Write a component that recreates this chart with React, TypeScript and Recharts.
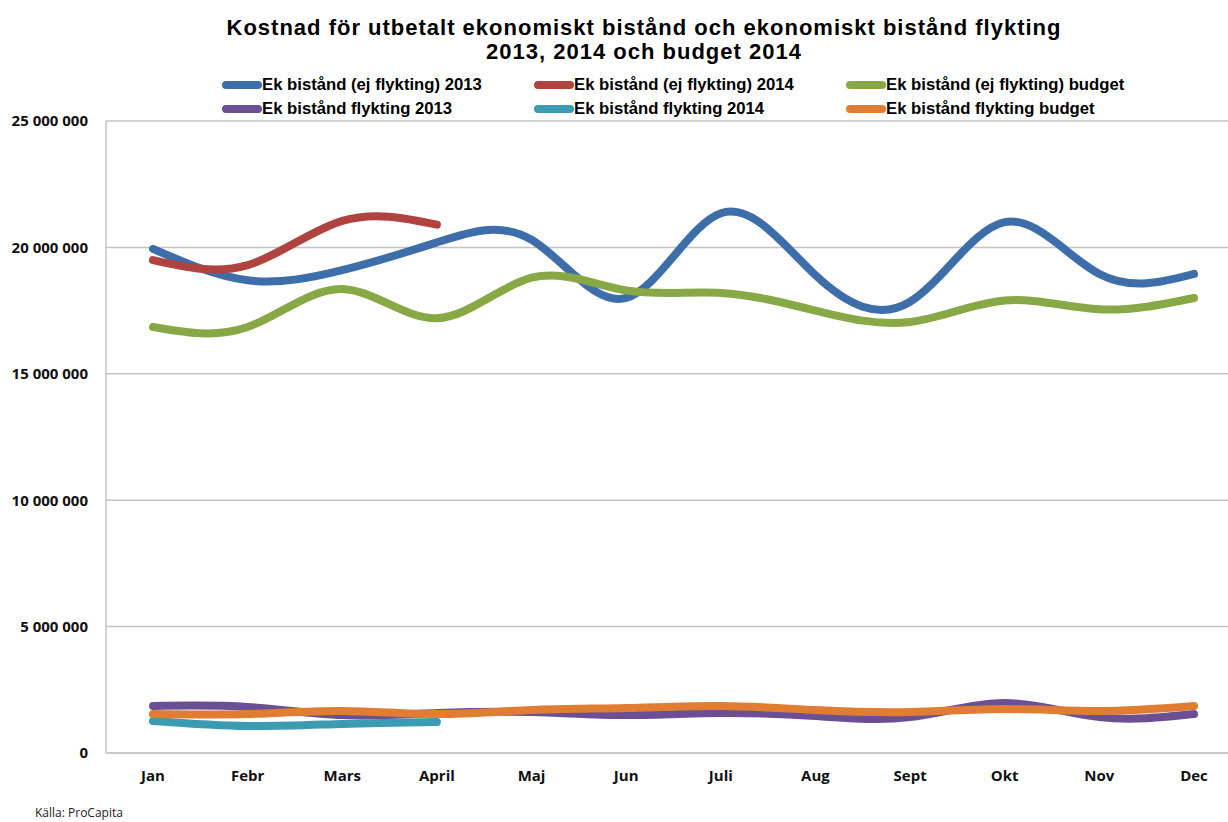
import { LineChart, Line, XAxis, YAxis, CartesianGrid } from 'recharts';

const months = ['Jan', 'Febr', 'Mars', 'April', 'Maj', 'Jun', 'Juli', 'Aug', 'Sept', 'Okt', 'Nov', 'Dec'];

const ekAid2013 = [19.94, 18.7, 19.1, 20.2, 20.3, 18.0, 21.35, 18.9, 17.85, 21.0, 18.95, 18.95];
const ekAid2014 = [19.5, 19.3, 21.05, 20.9];
const ekAidBudget = [16.85, 16.85, 18.35, 17.2, 18.8, 18.3, 18.2, 17.5, 17.05, 17.9, 17.55, 18.0];
const refugee2013 = [1.86, 1.82, 1.5, 1.58, 1.62, 1.5, 1.58, 1.46, 1.42, 1.98, 1.42, 1.54];
const refugee2014 = [1.27, 1.07, 1.15, 1.23];
const refugeeBudget = [1.54, 1.54, 1.66, 1.54, 1.7, 1.78, 1.86, 1.7, 1.62, 1.74, 1.66, 1.86];

const yTicks = [0, 5000000, 10000000, 15000000, 20000000, 25000000];

const titleLines = [
  'Kostnad för utbetalt ekonomiskt bistånd och ekonomiskt bistånd flykting',
  '2013, 2014 och budget 2014',
];

const series = [
  { key: 'a2013', name: 'Ek bistånd (ej flykting) 2013', color: '#3e6ea9', values: ekAid2013 },
  { key: 'a2014', name: 'Ek bistånd (ej flykting) 2014', color: '#b0433f', values: ekAid2014 },
  { key: 'abud', name: 'Ek bistånd (ej flykting) budget', color: '#87a845', values: ekAidBudget },
  { key: 'f2013', name: 'Ek bistånd flykting 2013', color: '#6b4f95', values: refugee2013 },
  { key: 'f2014', name: 'Ek bistånd flykting 2014', color: '#3a9bb2', values: refugee2014 },
  { key: 'fbud', name: 'Ek bistånd flykting budget', color: '#e17d32', values: refugeeBudget },
];

const data = months.map((m, i) => {
  const row: Record<string, string | number | null> = { month: m };
  series.forEach((s) => {
    row[s.key] = s.values[i] != null ? s.values[i] * 1000000 : null;
  });
  return row;
});

const fmt = (v: number) => v.toLocaleString('sv-SE').replace(/\s/g, ' ');

const legendCols = [222, 534, 846];
const legendRows = [85, 109];

export default function App() {
  return (
    <div style={{ position: 'absolute', left: 0, top: 0, width: 1228, height: 822, overflow: 'hidden', background: '#fff' }}>
      {titleLines.map((t, i) => (
        <div
          key={t}
          style={{
            position: 'absolute',
            left: 0,
            width: 1288,
            top: 16 + i * 24,
            height: 24,
            lineHeight: '24px',
            textAlign: 'center',
            fontFamily: 'Liberation Sans, Arial, sans-serif',
            fontWeight: 700,
            fontSize: 22,
            letterSpacing: 1,
            color: '#000',
          }}
        >
          {t}
        </div>
      ))}
      {series.map((s, i) => (
        <div
          key={s.key}
          style={{
            position: 'absolute',
            left: legendCols[i % 3],
            top: legendRows[Math.floor(i / 3)] - 11,
            height: 22,
            display: 'flex',
            alignItems: 'center',
            fontFamily: 'Liberation Sans Narrow, Arial Narrow, sans-serif',
            fontWeight: 700,
            fontSize: 16.7,
            color: '#000',
            whiteSpace: 'nowrap',
          }}
        >
          <span style={{ display: 'inline-block', width: 40, height: 8, borderRadius: 4, background: s.color }} />
          <span>{s.name}</span>
        </div>
      ))}
      <div style={{ position: 'absolute', left: 0, top: 0 }}>
        <LineChart width={1242} height={822} data={data} margin={{ top: 121, right: 1, bottom: 39, left: 0 }}>
          <CartesianGrid stroke="#c4c4c4" strokeWidth={1.5} vertical={false} />
          <XAxis
            dataKey="month"
            height={30}
            padding={{ left: 47, right: 47 }}
            tickLine={false}
            axisLine={{ stroke: '#c4c4c4', strokeWidth: 1.5 }}
            interval={0}
            tickMargin={11}
            tick={{ fontSize: 15, fontWeight: 700, fill: '#111', fontFamily: 'Open Sans, sans-serif' }}
          />
          <YAxis
            width={106}
            domain={[0, 25000000]}
            ticks={yTicks}
            tickFormatter={fmt}
            tickLine={false}
            axisLine={{ stroke: '#c4c4c4', strokeWidth: 1.5 }}
            tickMargin={12}
            tick={{ fontSize: 15, fontWeight: 700, fill: '#111', fontFamily: 'Open Sans, sans-serif' }}
          />
          {series.map((s) => (
            <Line
              key={s.key}
              dataKey={s.key}
              name={s.name}
              type="natural"
              stroke={s.color}
              strokeWidth={8}
              strokeLinecap="round"
              dot={false}
              activeDot={false}
              isAnimationActive={false}
            />
          ))}
        </LineChart>
      </div>
      <div
        style={{
          position: 'absolute',
          left: 35,
          top: 804,
          fontFamily: 'Open Sans, sans-serif',
          fontSize: 12,
          color: '#222',
        }}
      >
        Källa: ProCapita
      </div>
    </div>
  );
}
